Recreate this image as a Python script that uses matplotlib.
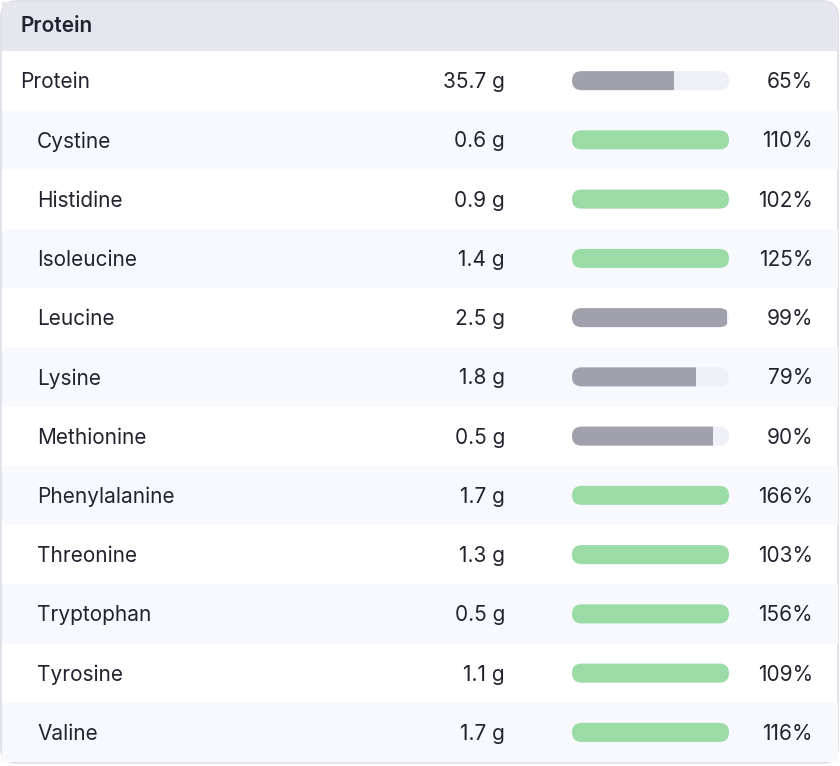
import matplotlib.pyplot as plt
from matplotlib.patches import FancyBboxPatch, Rectangle

names = ["Protein", "Cystine", "Histidine", "Isoleucine", "Leucine", "Lysine",
         "Methionine", "Phenylalanine", "Threonine", "Tryptophan", "Tyrosine", "Valine"]
amounts = ["35.7 g", "0.6 g", "0.9 g", "1.4 g", "2.5 g", "1.8 g",
           "0.5 g", "1.7 g", "1.3 g", "0.5 g", "1.1 g", "1.7 g"]
percents = [65, 110, 102, 125, 99, 79, 90, 166, 103, 156, 109, 116]

W, H = 840, 766
fig = plt.figure(figsize=(W / 100, H / 100), dpi=100)
ax = fig.add_axes([0, 0, 1, 1])
ax.set_xlim(0, W)
ax.set_ylim(H, 0)
ax.axis("off")
plt.rcParams["font.family"] = ["Inter", "DejaVu Sans"]
txt = "#22232e"
fs = 15

# card
ax.add_patch(FancyBboxPatch((1, 1), 837, 762, boxstyle="round,pad=0,rounding_size=16",
                            fc="white", ec="#dcdce6", lw=1.2, zorder=0))
ax.add_patch(FancyBboxPatch((1.5, 1.5), 836, 49.5, boxstyle="round,pad=0,rounding_size=15",
                            fc="#e6e6ef", ec="none", zorder=1))
ax.add_patch(Rectangle((1.5, 30), 836, 21, fc="#e6e6ef", ec="none", zorder=1))
ax.add_patch(Rectangle((1.5, 1.5), 30, 30, fc="#e6e6ef", ec="none", zorder=1))
ax.text(20, 26, "Protein", fontsize=fs, fontweight="semibold", color=txt, va="center")

top, rh = 51, 59.25
bx, bw, bh = 572, 157, 19
for i, (n, a, p) in enumerate(zip(names, amounts, percents)):
    y0 = top + i * rh
    yc = y0 + rh / 2
    ty = yc + 1.5
    if i % 2 == 1:
        ax.add_patch(Rectangle((1.5, y0), 836, rh, fc="#f8f9fe", ec="none", zorder=1))
    ax.text(20 if i == 0 else 37, ty, n, fontsize=fs, color=txt, va="center", zorder=3)
    ax.text(505, ty, a, fontsize=fs, color=txt, va="center", ha="right", zorder=3)
    ax.text(813, ty, f"{p}%", fontsize=fs, color=txt, va="center", ha="right", zorder=3)
    ok = p >= 100
    col = "#9bdca6" if ok else "#a0a1ac"
    ax.add_patch(FancyBboxPatch((bx, yc - bh / 2), bw, bh,
                                boxstyle=f"round,pad=0,rounding_size={bh / 2}",
                                fc="#efeff7", ec="none", zorder=2))
    fill = FancyBboxPatch((bx, yc - bh / 2), bw, bh,
                          boxstyle=f"round,pad=0,rounding_size={bh / 2}",
                          fc=col, ec="none", zorder=2.5)
    ax.add_patch(fill)
    clip = Rectangle((bx, yc - bh), bw * min(p, 100) / 100, bh * 2, transform=ax.transData)
    fill.set_clip_path(clip)

fig.savefig("out.png", dpi=100, facecolor="white")
